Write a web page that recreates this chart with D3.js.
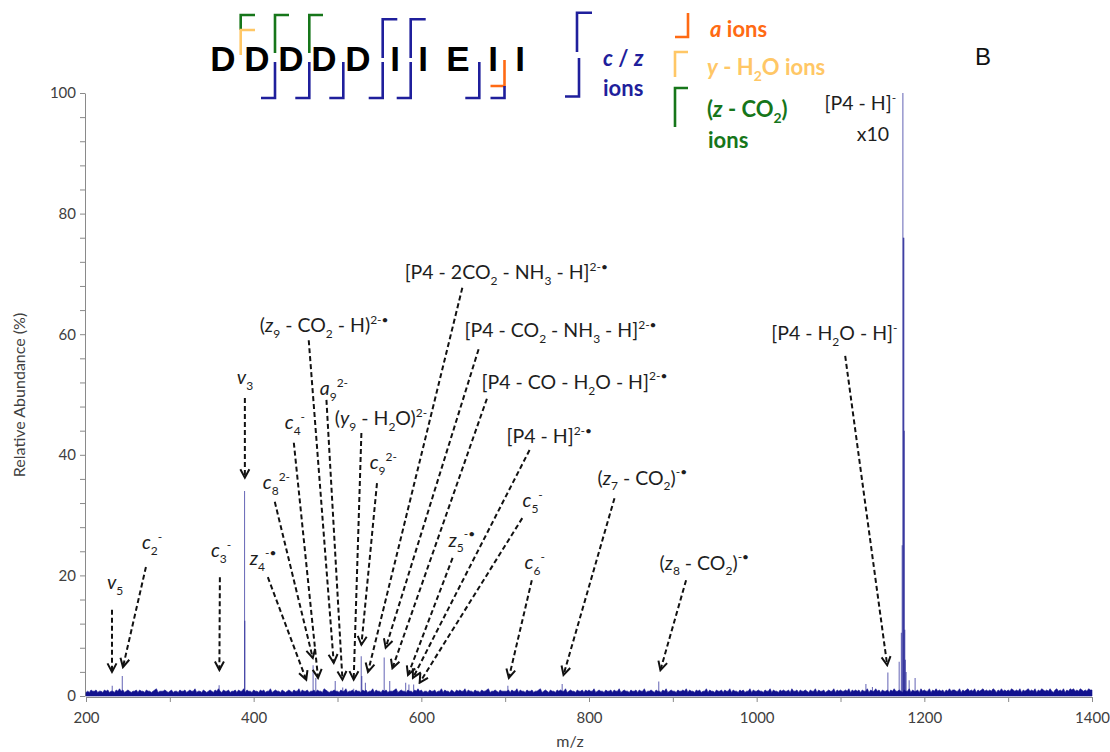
<!DOCTYPE html>
<html><head><meta charset="utf-8">
<script src="https://cdn.jsdelivr.net/npm/d3@7"></script>
<style>
body{margin:0;background:#fff;}
svg{display:block;}
</style></head><body>
<svg id="chart" width="1110" height="752"></svg>
<script>
// ---------- data ----------
const mzDomain = [200, 1400];
const abundanceDomain = [0, 100];
const xTickValues = [200, 300, 400, 500, 600, 700, 800, 900, 1000, 1100, 1200, 1300, 1400];
const xTickLabels = [200, 400, 600, 800, 1000, 1200, 1400];
const yTickValues = [0,4,8,12,16,20,24,28,32,36,40,44,48,52,56,60,64,68,72,76,80,84,88,92,96,100];
const yTickLabels = [0, 20, 40, 60, 80, 100];

// baseline noise: one digit per 2 m/z starting at 200, each digit = 0.2 % abundance
const noiseStart = 200, noiseStep = 2, noiseUnit = 0.2;
const noiseDigits =
  "34354453443545344354645345434453544354434563444543" +
  "45344354453454463443543454354643544534453544635443" +
  "54435453446345443543454354463544534453544365434454" +
  "43544634453544354534463544354534445634544354435464" +
  "53443544534463544354354544635443544354456344543544" +
  "44535446354435445344563454354435454463454435445354" +
  "54463454435445354463454435445354463445435443546345" +
  "44354454635443545344635443544535446354435453446354" +
  "45443544635443545445364453544543544635445345446354" +
  "54454635454535446354464535445354644543544635445364" +
  "54463546454535464554463545645463545645454653546454" +
  "54654546354564546354654546435645463546564546545465" + "5";

// centroid peaks: [m/z, relative abundance %]
const peaks = [
  [231.3, 1.7], [243.3, 3.3], [358.8, 1.8], [389.1, 34.0], [389.5, 12.5],
  [470.9, 5.1], [474.1, 3.0], [497.3, 2.5], [506.2, 1.4], [519.3, 1.2],
  [528.3, 6.6], [529.0, 3.3], [533.3, 2.2], [555.7, 6.4], [562.3, 2.5],
  [581.3, 2.2], [585.2, 1.9], [590.8, 1.9], [703.2, 1.7], [768.0, 2.0],
  [883.2, 2.4], [1130.3, 2.0], [1138.1, 1.5], [1156.5, 3.9], [1170.0, 5.7],
  [1172.6, 10.5], [1173.6, 25], [1174.4, 100], [1175.0, 76], [1175.6, 76],
  [1176.1, 44], [1176.7, 11], [1177.4, 6.0], [1178.3, 4.0], [1181.9, 2.6], [1189.0, 3.0]
];

// peak annotations: label parts, label anchor (left, middle), arrow start and tip, all in [m/z, %]
const annotations = [
  {label: [["v","i"],["5","sub"]], at: [225.0, 18.9], from: [231.0, 14.3], to: [231.0, 4.0]},
  {label: [["c","i"],["2","sub"],["-","sup"]], at: [266.7, 25.5], from: [271.5, 21.4], to: [244.1, 4.8]},
  {label: [["c","i"],["3","sub"],["-","sup"]], at: [349.0, 24.2], from: [359.7, 19.7], to: [359.1, 4.3]},
  {label: [["v","i"],["3","sub"]], at: [379.9, 52.9], from: [389.5, 49.4], to: [389.5, 36.2]},
  {label: [["z","i"],["4","sub"],["-•","sup"]], at: [395.4, 22.9], from: [416.9, 19.7], to: [462.7, 2.7]},
  {label: [["c","i"],["8","sub"],["2-","sup"]], at: [410.9, 35.5], from: [425.2, 32.2], to: [470.5, 6.3]},
  {label: [["c","i"],["4","sub"],["-","sup"]], at: [437.1, 45.4], from: [447.9, 42.0], to: [476.8, 3.0]},
  {label: [["(",""],["z","i"],["9","sub"],[" - CO",""],["2","sub"],[" - H)",""],["2-•","sup"]], at: [407.3, 61.5], from: [465.7, 59.0], to: [495.5, 5.5]},
  {label: [["a","i"],["9","sub"],["2-","sup"]], at: [478.8, 51.1], from: [486.8, 49.1], to: [505.9, 2.7]},
  {label: [["(",""],["y","i"],["9","sub"],[" - H",""],["2","sub"],["O)",""],["2-","sup"]], at: [496.7, 46.1], from: [528.5, 43.6], to: [519.3, 2.7]},
  {label: [["c","i"],["9","sub"],["2-","sup"]], at: [538.4, 38.8], from: [547.1, 35.3], to: [528.5, 8.5]},
  {label: [["[P4 - 2CO",""],["2","sub"],[" - NH",""],["3","sub"],[" - H]",""],["2-•","sup"]], at: [580.1, 70.3], from: [648.9, 67.7], to: [536.4, 4.0]},
  {label: [["[P4 - CO",""],["2","sub"],[" - NH",""],["3","sub"],[" - H]",""],["2-•","sup"]], at: [651.6, 60.7], from: [668.3, 57.5], to: [557.5, 8.0]},
  {label: [["[P4 - CO - H",""],["2","sub"],["O - H]",""],["2-•","sup"]], at: [671.9, 52.1], from: [678.2, 49.3], to: [565.5, 4.6]},
  {label: [["[P4 - H]",""],["2-•","sup"]], at: [701.7, 43.1], from: [729.1, 40.8], to: [590.0, 3.0]},
  {label: [["z","i"],["5","sub"],["-•","sup"]], at: [632.5, 25.9], from: [637.3, 22.9], to: [584.1, 3.5]},
  {label: [["c","i"],["5","sub"],["-","sup"]], at: [720.7, 32.5], from: [720.4, 29.5], to: [598.0, 2.2]},
  {label: [["c","i"],["6","sub"],["-","sup"]], at: [723.1, 22.2], from: [731.8, 19.2], to: [704.4, 3.0]},
  {label: [["(",""],["z","i"],["7","sub"],[" - CO",""],["2","sub"],[")",""],["-•","sup"]], at: [810.1, 36.2], from: [830.4, 32.8], to: [769.6, 3.5]},
  {label: [["(",""],["z","i"],["8","sub"],[" - CO",""],["2","sub"],[")",""],["-•","sup"]], at: [884.0, 22.1], from: [915.8, 19.2], to: [885.2, 4.3]},
  {label: [["[P4 - H",""],["2","sub"],["O - H]",""],["-","sup"]], at: [1017.4, 60.2], from: [1105.6, 56.4], to: [1155.7, 5.1]}
];
// precursor label (right aligned, no arrow)
const precursorLabel = [["[P4 - H]",""],["-","sup"]];
const precursorAt = [1166.4, 98.3];
const scaleNote = "x10";
const scaleNoteAt = [1158.0, 93.2];

// peptide sequence and fragment legend
const sequence = ["D","D","D","D","D","I","I","E","I","I"];
const colors = {cz: "#1f1f9c", a: "#ff6a13", yw: "#ffc766", zc: "#16761a", spec: "#12128e"};

// ---------- layout ----------
const svg = d3.select("#chart");
const x = d3.scaleLinear().domain(mzDomain).range([86, 1092]);
const y = d3.scaleLinear().domain(abundanceDomain).range([696, 93]);
const labelFont = "Lato, 'Open Sans', sans-serif";

function richText(sel, parts, size) {
  const small = Math.round(size * 0.64);
  let shift = 0;
  parts.forEach(([t, s]) => {
    let target = 0, fs = size, italic = false;
    if (s === "sub") { target = size * 0.3; fs = small; }
    else if (s === "sup") { target = -size * 0.42; fs = small; }
    else if (s === "i") italic = true;
    const ts = sel.append("tspan").text(t).attr("dy", target - shift).attr("font-size", fs);
    if (italic) ts.attr("font-style", "italic");
    shift = target;
  });
}

// ---------- axes ----------
const gx = svg.append("g").attr("transform", `translate(0,${y(0) + 1})`)
  .call(d3.axisBottom(x).tickValues(xTickValues)
    .tickFormat(d => xTickLabels.includes(d) ? d : "")
    .tickSize(5).tickSizeOuter(0).tickPadding(10));
const gy = svg.append("g").attr("transform", `translate(${x(200) - 1},0)`)
  .call(d3.axisLeft(y).tickValues(yTickValues)
    .tickFormat(d => yTickLabels.includes(d) ? d : "")
    .tickSize(5).tickSizeOuter(0).tickPadding(4));
[gx, gy].forEach(g => {
  g.selectAll("path,line").attr("stroke", "#8a8a8a");
  g.selectAll("text").attr("font-family", labelFont).attr("font-size", 15).attr("fill", "#404040");
});

svg.append("text").attr("x", 570).attr("y", 747).attr("text-anchor", "middle")
  .attr("font-family", labelFont).attr("font-size", 16).attr("fill", "#404040").text("m/z");
svg.append("text").attr("transform", "translate(25,395) rotate(-90)").attr("text-anchor", "middle")
  .attr("font-family", labelFont).attr("font-size", 16).attr("fill", "#404040").text("Relative Abundance (%)");

// ---------- spectrum ----------
const noise = Array.from(noiseDigits, (c, i) => [noiseStart + i * noiseStep, (+c) * noiseUnit]);
svg.append("path").datum(noise)
  .attr("d", d3.area().x(d => x(d[0])).y0(y(0)).y1(d => y(d[1])))
  .attr("fill", colors.spec).attr("stroke", colors.spec).attr("stroke-width", 0.6);

svg.append("g").selectAll("line").data(peaks).join("line")
  .attr("x1", d => x(d[0])).attr("x2", d => x(d[0]))
  .attr("y1", y(0)).attr("y2", d => y(d[1]))
  .attr("stroke", colors.spec).attr("stroke-width", 1.1).attr("stroke-opacity", 0.6);

// ---------- annotations ----------
const defs = svg.append("defs");
defs.append("marker").attr("id", "head").attr("viewBox", "0 0 12 12")
  .attr("refX", 10).attr("refY", 6).attr("markerWidth", 12).attr("markerHeight", 12)
  .attr("markerUnits", "userSpaceOnUse").attr("orient", "auto")
  .append("path").attr("d", "M1.5,1.5 L10,6 L1.5,10.5")
  .attr("fill", "none").attr("stroke", "#111").attr("stroke-width", 2);

const ann = svg.append("g");
ann.selectAll("line").data(annotations).join("line")
  .attr("x1", d => x(d.from[0])).attr("y1", d => y(d.from[1]))
  .attr("x2", d => x(d.to[0])).attr("y2", d => y(d.to[1]))
  .attr("stroke", "#111").attr("stroke-width", 2).attr("stroke-dasharray", "5,3")
  .attr("marker-end", "url(#head)");

const labelSize = 19.5;
annotations.forEach(d => {
  const t = ann.append("text").attr("x", x(d.at[0])).attr("y", y(d.at[1]) + labelSize * 0.35)
    .attr("font-family", labelFont).attr("fill", "#1e1e1e");
  richText(t, d.label, labelSize);
});
const pt = ann.append("text").attr("x", x(precursorAt[0])).attr("y", y(precursorAt[1]) + labelSize * 0.35)
  .attr("text-anchor", "end").attr("font-family", labelFont).attr("fill", "#1e1e1e");
richText(pt, precursorLabel, labelSize);
ann.append("text").attr("x", x(scaleNoteAt[0])).attr("y", y(scaleNoteAt[1]) + labelSize * 0.35)
  .attr("text-anchor", "end").attr("font-family", labelFont).attr("font-size", labelSize)
  .attr("fill", "#1e1e1e").text(scaleNote);

// panel letter
svg.append("text").attr("x", 983).attr("y", 65).attr("text-anchor", "middle")
  .attr("font-family", "'Liberation Sans', Arial, sans-serif").attr("font-size", 24).attr("fill", "#111").text("B");

// ---------- peptide sequence with cleavage marks ----------
const seqX = [223, 257, 291, 324, 358, 395, 423, 458, 493, 520];
const seqG = svg.append("g");
seqG.selectAll("text").data(sequence).join("text")
  .attr("x", (d, i) => seqX[i]).attr("y", 71).attr("text-anchor", "middle")
  .attr("font-family", "'Liberation Sans', Arial, sans-serif").attr("font-weight", "bold")
  .attr("font-size", 35).attr("fill", "#000").text(d => d);

const marks = [
  {c: colors.zc, d: "M255,15 L240.7,15 L240.7,30"},
  {c: colors.yw, d: "M255,30 L240.7,30 L240.7,55"},
  {c: colors.zc, d: "M289,15 L275,15 L275,53"},
  {c: colors.zc, d: "M323,15 L309.3,15 L309.3,53"},
  {c: colors.cz, d: "M397.3,19.3 L382.7,19.3 L382.7,58"},
  {c: colors.cz, d: "M425.7,19.3 L410.7,19.3 L410.7,58"},
  {c: colors.cz, d: "M275,62 L275,98 L261,98"},
  {c: colors.cz, d: "M309.3,62 L309.3,98 L295.3,98"},
  {c: colors.cz, d: "M343.3,62 L343.3,98 L329.3,98"},
  {c: colors.cz, d: "M382.7,62 L382.7,98 L368.7,98"},
  {c: colors.cz, d: "M410.7,62 L410.7,98 L396.7,98"},
  {c: colors.cz, d: "M479.3,62 L479.3,98 L465.3,98"},
  {c: colors.a,  d: "M504.5,60 L504.5,86 L490.5,86"},
  {c: colors.cz, d: "M504.5,86 L504.5,98 L490.5,98"},
  // legend glyphs
  {c: colors.cz, d: "M592,12.7 L577,12.7 L577,52"},
  {c: colors.cz, d: "M579,58 L579,96.5 L565,96.5"},
  {c: colors.a,  d: "M675,37 L688,37 L688,13"},
  {c: colors.yw, d: "M688,52 L675,52 L675,77"},
  {c: colors.zc, d: "M688,88 L675,88 L675,127"}
];
seqG.selectAll("path").data(marks).join("path")
  .attr("d", d => d.d).attr("fill", "none").attr("stroke", d => d.c).attr("stroke-width", 2.6);

const legendSize = 22;
const legendItems = [
  {parts: [["c","i"],[" / ",""],["z","i"]], at: [603, 58], c: colors.cz},
  {parts: [["ions",""]], at: [603, 88], c: colors.cz},
  {parts: [["a","i"],[" ions",""]], at: [710, 29], c: colors.a},
  {parts: [["y","i"],[" - H",""],["2","sub"],["O ions",""]], at: [707, 67], c: colors.yw},
  {parts: [["(",""],["z","i"],[" - CO",""],["2","sub"],[")",""]], at: [707, 109], c: colors.zc},
  {parts: [["ions",""]], at: [708, 140], c: colors.zc}
];
legendItems.forEach(d => {
  const t = seqG.append("text").attr("x", d.at[0]).attr("y", d.at[1] + legendSize * 0.35)
    .attr("font-family", labelFont).attr("font-weight", "bold").attr("fill", d.c);
  richText(t, d.parts, legendSize);
});
</script>
</body></html>
